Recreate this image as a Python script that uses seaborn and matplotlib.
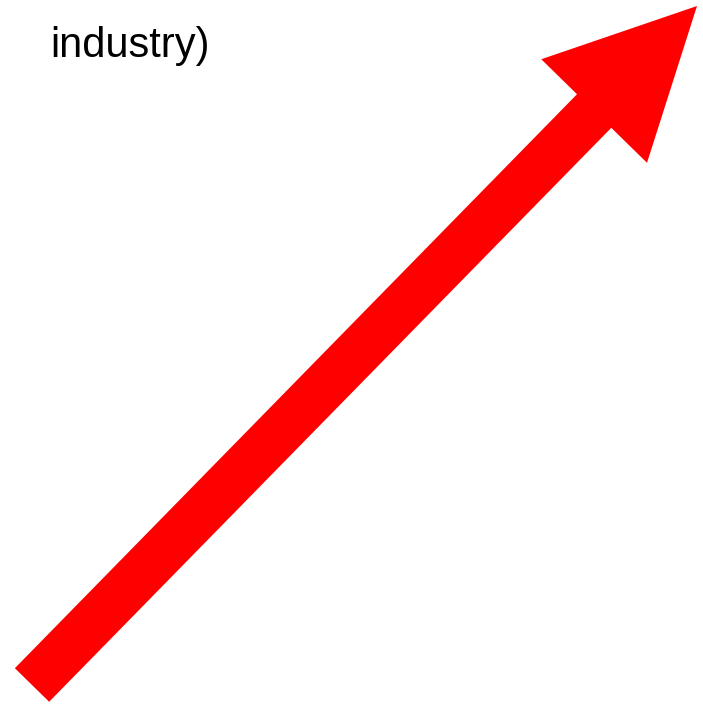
import matplotlib.pyplot as plt
import seaborn as sns

# arrow from tail centre to tip, in pixel coordinates of the picture
arrow_start = [32, 685]
arrow_end = [697, 6]
label = "industry)"

sns.set_style("white")
plt.rcParams['font.family'] = ['Liberation Sans', 'DejaVu Sans']

fig = plt.figure(figsize=(7.03, 7.06), dpi=100)
ax = fig.add_axes([0, 0, 1, 1])
ax.set_xlim(0, 703)
ax.set_ylim(706, 0)
ax.axis('off')

ax.arrow(arrow_start[0], arrow_start[1],
         arrow_end[0] - arrow_start[0], arrow_end[1] - arrow_start[1],
         width=48, head_width=148, head_length=147,
         length_includes_head=True, color='#ff0000', linewidth=0)

ax.text(50, 57, label, fontsize=30, color='black', ha='left', va='baseline')

plt.savefig("out.png", dpi=100)
